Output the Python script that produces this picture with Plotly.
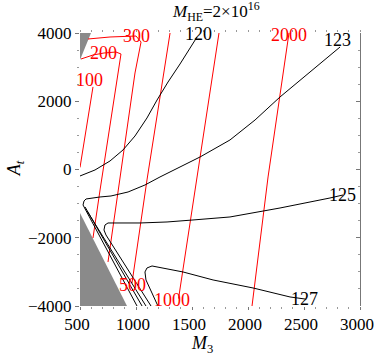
import plotly.graph_objects as go

# M3 / At values
m3_ticks = [500, 1000, 1500, 2000, 2500, 3000]
at_ticks = [-4000, -2000, 0, 2000, 4000]

# excluded regions (grey)
gray_top_m3 = [500, 598, 500]
gray_top_at = [4000, 4000, 3210]
gray_bot_m3 = [500, 920, 500]
gray_bot_at = [-4000, -4000, -1274]

# red contours
red_100_m3 = [500, 616]
red_100_at = [60, 2420]
red_200_m3 = [509, 616, 714, 821, 866, 839, 679, 616]
red_200_at = [3238, 3355, 3414, 3443, 3385, 2828, -600, -2007]
red_300_m3 = [571, 768, 1000, 1045, 991, 839, 750]
red_300_at = [3824, 3883, 3912, 3736, 2828, -600, -2710]
red_500_m3 = [1304, 1098, 964]
red_500_at = [4000, -307, -3330]
red_1000_m3 = [1741, 1554, 1380]
red_1000_at = [4000, -102, -3780]
red_2000_m3 = [2366, 2179, 2036]
red_2000_at = [4000, -219, -4000]

# black contours
blk_120_m3 = [500, 634, 768, 884, 991, 1098, 1188, 1286, 1393, 1482, 1545]
blk_120_at = [-190, -14, 250, 572, 982, 1510, 2037, 2564, 3092, 3560, 3883]
blk_123_m3 = [1009, 527, 536, 554, 679, 777, 929, 1080, 1214, 1393, 1572, 1839, 2063, 2286, 2581, 2822]
blk_123_at = [-4000, -1040, -922, -864, -805, -776, -659, -454, -219, 74, 367, 865, 1451, 2125, 2916, 3590]
blk_b2_m3 = [545, 1054]
blk_b2_at = [-1098, -4000]
blk_b3_m3 = [563, 1089]
blk_b3_at = [-1215, -4000]
blk_125_m3 = [2848, 2732, 2286, 1839, 1509, 1277, 1036, 911, 750, 723, 714, 732, 1134]
blk_125_at = [-747, -835, -1128, -1391, -1479, -1538, -1567, -1567, -1567, -1626, -1772, -1919, -4000]
blk_127_m3 = [2520, 2375, 2045, 1688, 1420, 1214, 1143, 1098, 1080, 1089, 1143, 1196]
blk_127_at = [-3800, -3735, -3472, -3237, -3003, -2856, -2827, -2886, -3003, -3237, -3647, -4000]

# contour labels
red_lbl_text = ["100", "200", "300", "500", "1000", "2000"]
red_lbl_m3 = [589, 714, 1000, 973, 1322, 2366]
red_lbl_at = [2623, 3414, 3912, -3384, -3823, 3941]
blk_lbl_text = ["120", "123", "125", "127"]
blk_lbl_m3 = [1554, 2795, 2848, 2500]
blk_lbl_at = [3970, 3800, -747, -3794]

FONT = "Liberation Serif"

fig = go.Figure()

for xs, ys in [(gray_top_m3, gray_top_at), (gray_bot_m3, gray_bot_at)]:
    fig.add_trace(go.Scatter(x=xs, y=ys, fill="toself", fillcolor="#8a8a8a",
                             mode="lines", line=dict(width=0), hoverinfo="skip"))

for xs, ys in [(red_100_m3, red_100_at), (red_200_m3, red_200_at), (red_300_m3, red_300_at),
               (red_500_m3, red_500_at), (red_1000_m3, red_1000_at), (red_2000_m3, red_2000_at)]:
    fig.add_trace(go.Scatter(x=xs, y=ys, mode="lines", line=dict(color="red", width=1),
                             hoverinfo="skip"))

for xs, ys in [(blk_120_m3, blk_120_at), (blk_123_m3, blk_123_at), (blk_b2_m3, blk_b2_at),
               (blk_b3_m3, blk_b3_at), (blk_125_m3, blk_125_at), (blk_127_m3, blk_127_at)]:
    fig.add_trace(go.Scatter(x=xs, y=ys, mode="lines", line=dict(color="black", width=1),
                             hoverinfo="skip"))

for t, x, y in zip(red_lbl_text, red_lbl_m3, red_lbl_at):
    fig.add_annotation(x=x, y=y, text=t, showarrow=False,
                       font=dict(family=FONT, size=18, color="red"))
for t, x, y in zip(blk_lbl_text, blk_lbl_m3, blk_lbl_at):
    fig.add_annotation(x=x, y=y, text=t, showarrow=False,
                       font=dict(family=FONT, size=18, color="black"))

# invisible trace so the top/right frame axes get drawn
fig.add_trace(go.Scatter(x=[1000], y=[0], xaxis="x2", yaxis="y2", mode="markers",
                         marker=dict(opacity=0), hoverinfo="skip", showlegend=False))

# titles as annotations
fig.add_annotation(xref="paper", yref="paper", x=0.486, y=1.077, xanchor="center",
                   yanchor="middle", text="<i>M</i><sub>HE</sub>=2×10<sup>16</sup>",
                   showarrow=False, font=dict(family=FONT, size=17, color="black"))
fig.add_annotation(xref="paper", yref="paper", x=0.436, y=-0.14, xanchor="center",
                   yanchor="middle", text="<i>M</i><sub>3</sub>", showarrow=False,
                   font=dict(family=FONT, size=18, color="black"))
fig.add_annotation(xref="paper", yref="paper", x=-0.232, y=0.505, xanchor="center",
                   yanchor="middle", text="<i>A<sub>t</sub></i>", showarrow=False,
                   textangle=-90, font=dict(family=FONT, size=18, color="black"))

axis_common = dict(showgrid=False, zeroline=False, color="black")

fig.update_layout(
    width=374, height=355,
    margin=dict(l=80, r=14, t=33, b=49, autoexpand=False),
    plot_bgcolor="white", paper_bgcolor="white",
    showlegend=False,
    font=dict(family=FONT, size=17, color="black"),
    xaxis=dict(range=[500, 3000], tickvals=m3_ticks, ticks="outside", ticklen=3,
               tickcolor="#777", showline=False, ticklabeloverflow="allow",
               ticklabelshift=-3,
               minor=dict(dtick=100, ticks="outside", ticklen=2, tickcolor="#999"),
               **axis_common),
    yaxis=dict(range=[-4000, 4000], tickvals=at_ticks, ticks="outside", ticklen=4,
               tickcolor="#777", showline=False,
               minor=dict(dtick=500, ticks="outside", ticklen=2, tickcolor="#999"),
               **axis_common),
    xaxis2=dict(range=[500, 3000], overlaying="x", side="top", anchor="y",
                tickvals=m3_ticks, ticks="outside", ticklen=2, tickcolor="#999",
                showticklabels=False, showline=False,
                minor=dict(dtick=100, ticks="outside", ticklen=2, tickcolor="#999"),
                **axis_common),
    yaxis2=dict(range=[-4000, 4000], overlaying="y", side="right", anchor="x",
                tickvals=at_ticks, ticks="inside", ticklen=4, tickcolor="#777",
                showticklabels=False, showline=True, linecolor="#777", linewidth=1,
                minor=dict(dtick=500, ticks="inside", ticklen=2, tickcolor="#999"),
                **axis_common),
)

# drop the default 8px page margin so the figure fills the window
fig.write_html("out.html", config={"displayModeBar": False},
               post_script="document.body.style.margin='0px';")
